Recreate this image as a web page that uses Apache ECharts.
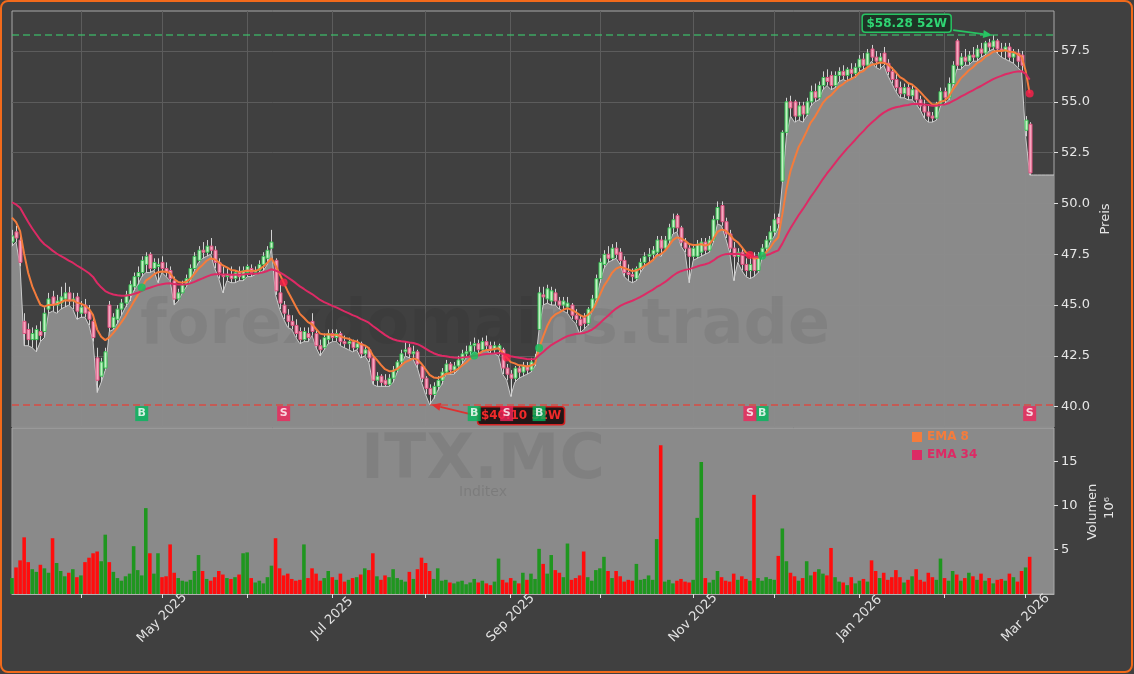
<!DOCTYPE html>
<html><head><meta charset="utf-8">
<script src="https://cdn.jsdelivr.net/npm/echarts@6/dist/echarts.min.js"></script>
<style>html,body{margin:0;padding:0;background:#404040;}#c{width:1134px;height:674px;}</style>
</head><body><div id="c"></div>
<script>
// ---------- DATA ----------
const startDate = '2025-03-07';
const holidays = ['2025-04-18','2025-04-21','2025-05-01','2025-12-25','2025-12-26','2026-01-01'];
const padDays = 6;
const open = [
48.1,48.6,48.2,44.2,43.8,43.3,43.3,43.7,43.7,44.8,
45.4,45.0,45.1,45.3,45.6,45.2,45.4,44.6,45.0,44.7,
44.2,42.4,41.5,41.9,45.0,43.9,44.3,44.8,45.1,45.5,
45.9,46.4,46.6,47.0,47.5,46.8,46.9,47.1,46.8,46.7,
46.2,45.3,45.6,46.0,46.3,46.8,47.2,47.7,47.6,47.9,
47.7,47.1,46.5,46.4,46.5,46.3,46.6,46.3,46.6,46.8,
46.6,46.7,47.0,47.3,47.8,47.2,45.6,45.0,44.5,44.2,
44.0,43.7,43.3,43.6,44.2,43.6,43.0,42.9,43.3,43.6,
43.4,43.6,43.2,43.1,43.2,42.9,43.1,42.6,42.8,42.4,
41.3,41.5,41.3,41.1,41.4,41.8,42.2,42.7,42.9,42.6,
42.7,42.0,41.4,40.9,40.6,41.0,41.3,41.7,42.1,41.8,
42.0,42.3,42.6,42.7,43.0,43.1,42.8,43.2,43.0,42.8,
42.8,42.8,41.9,41.6,41.4,41.9,41.7,42.0,41.8,42.3,
43.8,45.5,45.3,45.2,45.6,45.2,45.0,44.9,45.0,44.5,
44.3,44.4,44.1,44.8,45.3,46.3,47.0,47.5,47.3,47.8,
47.6,47.2,46.6,46.5,46.3,46.8,47.1,47.4,47.5,47.6,
48.2,47.8,48.2,48.8,49.4,48.8,48.1,47.8,47.4,47.4,
47.6,48.1,47.7,48.2,49.2,49.9,49.1,48.5,47.8,47.4,
47.6,47.0,46.7,47.4,46.7,47.4,47.8,48.2,48.6,49.3,
51.1,53.5,55.0,55.0,54.3,54.8,54.4,55.0,55.5,55.2,
55.8,56.2,56.3,55.8,56.3,56.5,56.3,56.6,56.4,56.7,
57.1,56.8,57.6,57.2,57.0,57.4,56.9,56.5,56.1,55.7,
55.4,55.7,55.3,55.6,55.1,54.8,54.5,54.3,54.2,54.9,
55.5,55.2,55.9,58.0,56.8,57.2,57.0,57.3,57.2,57.6,
57.4,57.9,57.7,58.0,57.6,57.5,57.7,57.2,57.4,57.3,
53.6,53.9];
const high = [
48.7,48.9,48.4,44.6,44.1,43.9,44.0,44.2,44.9,45.6,
45.7,45.5,45.9,46.1,45.9,45.6,45.6,45.2,45.3,45.0,
44.4,42.9,42.4,42.9,45.2,44.6,45.0,45.3,45.7,46.2,
46.6,46.9,47.4,47.6,47.6,47.3,47.3,47.4,47.1,46.9,
46.4,45.8,46.2,46.5,47.0,47.6,47.9,48.1,48.2,48.3,
47.9,47.3,46.9,46.8,46.9,46.7,46.9,46.9,47.0,47.0,
46.9,47.2,47.6,47.9,48.7,47.3,46.0,45.2,44.8,44.5,
44.3,43.9,43.9,43.9,44.6,43.8,43.3,43.6,43.8,43.8,
43.8,43.7,43.5,43.4,43.3,43.3,43.2,43.0,42.9,42.5,
41.7,41.6,41.6,41.6,42.0,42.3,42.8,43.2,43.1,43.0,
42.8,42.1,41.5,41.1,41.2,41.5,41.9,42.3,42.2,42.2,
42.5,42.8,43.0,43.2,43.4,43.3,43.4,43.5,43.2,43.2,
43.1,42.9,42.1,41.8,42.0,42.0,42.2,42.2,42.4,42.6,
45.9,45.9,46.0,45.9,45.8,45.4,45.4,45.4,45.1,44.8,
44.5,44.6,44.9,45.5,46.5,47.3,47.7,47.9,48.0,48.1,
47.8,47.4,47.0,46.8,46.9,47.3,47.6,47.8,47.9,48.4,
48.4,48.4,49.0,49.5,49.5,48.9,48.3,48.0,48.0,48.2,
48.3,48.3,48.4,49.4,50.1,50.1,49.3,48.7,48.1,47.8,
47.8,47.3,47.4,47.6,47.6,48.0,48.4,48.9,49.5,49.5,
53.6,55.2,55.3,55.1,55.0,55.0,55.2,55.8,55.9,56.0,
56.5,56.6,56.5,56.5,56.7,56.8,56.7,56.9,56.9,57.3,
57.4,57.6,57.8,57.5,57.4,57.7,57.1,56.7,56.4,56.0,
55.9,55.9,55.8,55.7,55.3,55.1,54.8,54.5,55.0,55.7,
55.7,56.2,57.0,58.1,57.4,57.6,57.5,57.7,57.8,57.9,
58.0,58.1,58.28,58.1,57.9,57.9,57.9,57.6,57.6,57.5,
54.3,54.0];
const low = [
47.9,48.1,46.9,43.0,43.0,42.9,42.7,43.2,43.4,44.6,
44.7,44.6,44.8,44.9,45.0,44.8,44.3,44.4,44.4,44.0,
43.2,40.7,41.2,41.8,43.7,43.8,44.1,44.5,44.9,45.2,
45.7,46.0,46.4,46.6,46.6,46.7,46.1,46.6,46.4,46.2,
45.0,45.2,45.6,45.9,46.2,46.7,47.1,47.3,47.4,47.5,
46.8,46.3,45.6,46.2,46.1,46.1,46.2,46.2,46.4,46.4,
46.5,46.6,46.7,47.0,47.8,45.5,44.8,44.3,43.9,43.8,
43.4,43.1,43.2,43.2,43.5,42.9,42.5,42.8,43.1,43.2,
43.2,43.0,42.9,42.8,42.7,42.8,42.4,42.5,42.2,41.1,
41.0,41.0,41.0,41.0,41.2,41.7,42.1,42.5,42.4,42.3,
41.9,41.2,40.6,40.1,40.4,40.8,41.1,41.6,41.6,41.6,
41.8,42.1,42.4,42.5,42.7,42.6,42.7,42.8,42.6,42.6,
42.5,41.6,41.3,40.5,41.2,41.4,41.5,41.6,41.7,42.0,
43.8,45.0,45.1,45.0,45.0,44.8,44.7,44.6,44.3,44.1,
43.6,43.8,44.0,44.7,45.2,46.1,46.8,47.1,47.2,47.3,
47.0,46.4,46.2,46.1,46.2,46.6,46.9,47.1,47.2,47.5,
47.4,47.7,48.0,48.5,48.6,47.9,47.6,46.1,47.2,47.3,
47.4,47.5,47.6,48.1,49.0,48.9,48.3,47.6,46.2,47.1,
46.7,46.4,46.3,46.4,46.6,47.3,47.6,48.1,48.4,48.8,
51.0,53.3,54.3,54.0,54.1,54.0,54.3,54.8,55.0,55.1,
55.6,55.8,55.6,55.7,56.0,56.1,56.0,56.2,56.2,56.5,
56.6,56.7,57.0,56.7,56.6,56.8,56.3,55.9,55.5,55.2,
55.2,55.1,55.1,54.9,54.6,54.2,54.0,54.0,54.1,54.8,
54.9,55.1,55.8,56.6,56.6,56.8,56.8,57.0,57.0,57.2,
57.3,57.5,57.6,57.4,57.2,57.1,57.0,56.9,56.7,56.5,
53.3,51.4];
const close = [
48.4,48.3,47.1,43.6,43.3,43.6,43.8,43.5,44.6,45.3,
45.0,45.2,45.4,45.6,45.2,45.3,44.7,44.9,44.6,44.3,
43.4,41.3,42.2,42.7,43.9,44.4,44.8,45.1,45.5,46.0,
46.4,46.6,47.2,47.4,46.8,47.1,47.0,46.8,46.6,46.3,
45.3,45.6,46.0,46.3,46.8,47.4,47.7,47.6,47.9,47.7,
47.1,46.6,46.4,46.5,46.3,46.6,46.4,46.7,46.9,46.6,
46.7,47.0,47.4,47.7,48.1,45.7,45.1,44.6,44.2,44.0,
43.6,43.3,43.7,43.4,43.7,43.0,42.8,43.4,43.6,43.4,
43.6,43.2,43.1,43.2,42.9,43.1,42.6,42.8,42.4,41.3,
41.5,41.2,41.1,41.4,41.8,42.2,42.6,42.8,42.6,42.7,
42.1,41.4,40.9,40.6,41.0,41.3,41.7,42.1,41.8,42.0,
42.3,42.6,42.7,43.0,43.1,42.8,43.2,43.0,42.8,43.0,
43.0,41.9,41.6,41.4,41.9,41.7,42.0,41.8,42.2,42.4,
45.6,45.4,45.8,45.7,45.2,45.0,45.2,45.1,44.5,44.3,
44.0,44.1,44.8,45.3,46.3,47.1,47.5,47.3,47.8,47.5,
47.2,46.6,46.5,46.4,46.8,47.1,47.4,47.5,47.7,48.2,
47.8,48.2,48.8,49.2,48.8,48.1,47.8,47.4,47.8,48.0,
48.1,47.7,48.2,49.2,49.8,49.1,48.5,47.8,47.4,47.6,
47.0,46.7,47.0,46.7,47.4,47.8,48.2,48.6,49.2,49.0,
53.5,55.0,54.7,54.3,54.8,54.4,55.0,55.5,55.2,55.8,
56.2,56.0,55.8,56.3,56.5,56.3,56.6,56.4,56.7,57.1,
56.8,57.4,57.2,57.0,57.2,56.9,56.5,56.1,55.7,55.4,
55.7,55.3,55.6,55.1,54.8,54.5,54.3,54.2,54.9,55.5,
55.2,55.9,56.8,56.8,57.2,57.0,57.3,57.2,57.6,57.4,
57.9,57.7,58.0,57.6,57.5,57.7,57.2,57.4,57.0,56.8,
54.1,51.5];
const volume = [ // millions
1.8,3.0,3.8,6.4,3.6,2.8,2.5,3.3,2.9,2.4,
6.3,3.5,2.6,2.0,2.4,2.8,1.9,2.1,3.6,4.1,
4.6,4.8,3.7,6.7,3.6,2.5,1.8,1.5,2.0,2.3,
5.4,2.7,2.1,9.7,4.6,2.3,4.6,1.9,2.0,5.6,
2.4,1.8,1.5,1.4,1.6,2.6,4.4,2.6,1.7,1.5,
1.9,2.6,2.2,1.8,1.7,1.9,2.2,4.6,4.7,1.8,
1.3,1.5,1.2,1.9,3.2,6.3,2.9,2.1,2.3,1.7,
1.5,1.6,5.6,1.8,2.9,2.3,1.5,1.8,2.6,1.9,
1.6,2.3,1.4,1.6,1.8,1.9,2.2,2.9,2.7,4.6,
2.0,1.6,2.1,1.9,2.8,1.8,1.6,1.4,2.5,1.7,
2.8,4.1,3.5,2.6,1.7,2.9,1.5,1.6,1.3,1.2,
1.4,1.5,1.1,1.3,1.7,1.3,1.5,1.2,1.0,1.4,
4.0,1.6,1.3,1.8,1.5,1.2,2.4,1.6,2.3,1.7,
5.1,3.4,2.3,4.4,2.7,2.4,1.9,5.7,1.6,1.8,
2.1,4.8,1.9,1.5,2.7,2.9,4.2,2.6,1.8,2.6,
2.0,1.4,1.6,1.5,3.4,1.6,1.7,2.1,1.6,6.2,
16.8,1.4,1.6,1.2,1.5,1.7,1.4,1.3,1.6,8.6,
14.9,1.8,1.3,1.6,2.6,1.9,1.5,1.4,2.3,1.6,
2.0,1.7,1.5,11.2,1.8,1.5,1.9,1.7,1.6,4.3,
7.4,3.7,2.4,2.0,1.5,1.8,3.7,2.1,2.5,2.8,
2.3,2.1,5.2,1.9,1.4,1.3,1.0,1.9,1.2,1.5,
1.7,1.4,3.8,2.6,1.8,2.4,1.6,1.9,2.7,1.9,
1.3,1.6,2.0,2.8,1.6,1.4,2.4,1.9,1.6,4.0,
1.8,1.5,2.6,2.2,1.5,1.8,2.4,2.0,1.6,2.3,
1.5,1.8,1.2,1.6,1.7,1.5,2.3,1.9,1.4,2.6,
3.0,4.2];
const ema8Seed = 49.3, ema34Seed = 50.05;   // EMA values at first visible day (history before window)
const buyIdx = [32, 114, 130, 185];
const sellIdx = [67, 122, 182, 251];
const yearHigh = {idx: 242, value: 58.28};
const yearLow = {idx: 103, value: 40.10};
const priceTicks = [40, 42.5, 45, 47.5, 50, 52.5, 55, 57.5];
const volTicks = [5, 10, 15];
const labeledMonths = [5, 7, 9, 11, 1, 3];
const monthNames = ['Jan','Feb','Mar','Apr','May','Jun','Jul','Aug','Sep','Oct','Nov','Dec'];

// ---------- DERIVED ----------
const N = close.length;
function tradingDays(start, n) {
  const out = []; const d = new Date(start + 'T00:00:00Z');
  while (out.length < n) {
    const dow = d.getUTCDay(); const s = d.toISOString().slice(0, 10);
    if (dow !== 0 && dow !== 6 && holidays.indexOf(s) < 0) out.push(s);
    d.setUTCDate(d.getUTCDate() + 1);
  }
  return out;
}
const dates = tradingDays(startDate, N + padDays);
const monthStart = dates.map((d, i) => i > 0 && i < N && d.slice(0, 7) !== dates[i - 1].slice(0, 7));
const isLabeled = dates.map((d, i) => monthStart[i] && labeledMonths.indexOf(+d.slice(5, 7)) >= 0);
function ema(seed, period) {
  const k = 2 / (period + 1); const out = [seed];
  for (let i = 1; i < N; i++) out.push(out[i - 1] + k * (close[i] - out[i - 1]));
  return out;
}
const ema8 = ema(ema8Seed, 8), ema34 = ema(ema34Seed, 34);
const areaLow = low.concat(new Array(padDays).fill(low[N - 1]));
const candleData = close.map((c, i) => [i, open[i], c, low[i], high[i]]);
const volData = volume.map((v, i) => ({value: v, itemStyle: {color: close[i] >= open[i] ? '#1f961f' : '#ff0d0d'}}));
const crossDots = buyIdx.map(i => ({value: [i, ema8[i]], itemStyle: {color: '#10c45c'}}))
  .concat(sellIdx.map(i => ({value: [i, ema8[i]], itemStyle: {color: '#ff1f4b'}})));
const markerY = 39.66;
const sigMarks = buyIdx.map(i => ({value: [i, markerY], sig: 'B', itemStyle: {color: '#00b85c'}}))
  .concat(sellIdx.map(i => ({value: [i, markerY], sig: 'S', itemStyle: {color: '#f0245a'}})));

const C8 = '#f47c3c', C34 = '#dd2a65';
const FONT = '"DejaVu Sans", sans-serif';
const chart = echarts.init(document.getElementById('c'));
chart.setOption({
  animation: false,
  backgroundColor: '#404040',
  textStyle: {fontFamily: FONT},
  grid: [
    {left: 12, top: 11, width: 1042, height: 416, show: true, borderColor: '#a8a8a8', borderWidth: 1, backgroundColor: 'transparent'},
    {left: 12, top: 428, width: 1042, height: 166, show: true, borderColor: '#a8a8a8', borderWidth: 1, backgroundColor: '#8a8a8a'}
  ],
  legend: {
    data: [{name: 'EMA 8', textStyle: {color: C8}}, {name: 'EMA 34', textStyle: {color: C34}}],
    orient: 'vertical', left: 912, top: 431, itemWidth: 10, itemHeight: 10, itemGap: 6, icon: 'rect',
    textStyle: {fontSize: 12, fontWeight: 'bold', fontFamily: FONT}, padding: 0
  },
  xAxis: [
    {type: 'category', gridIndex: 0, data: dates, boundaryGap: false,
     axisLine: {show: false}, axisTick: {show: false}, axisLabel: {show: false},
     splitLine: {show: true, interval: (i) => monthStart[i], lineStyle: {color: '#5c5c5c', width: 1}}},
    {type: 'category', gridIndex: 1, data: dates, boundaryGap: false,
     axisLine: {show: true, lineStyle: {color: '#b0b0b0'}},
     axisTick: {show: true, interval: (i) => monthStart[i], length: 4, lineStyle: {color: '#e0e0e0'}},
     axisLabel: {show: true, interval: (i) => isLabeled[i], rotate: 45, align: 'center', verticalAlign: 'middle', margin: 24,
       color: '#e2e2e2', fontSize: 13, fontFamily: FONT,
       formatter: (v) => monthNames[+v.slice(5, 7) - 1] + ' ' + v.slice(0, 4)},
     splitLine: {show: false}}
  ],
  yAxis: [
    {type: 'value', gridIndex: 0, position: 'right', min: 39.0, max: 59.47, scale: true,
     axisLine: {show: false},
     axisTick: {show: true, customValues: priceTicks, length: 4, lineStyle: {color: '#e0e0e0'}},
     axisLabel: {show: true, customValues: priceTicks, formatter: (v) => v.toFixed(1), color: '#e6e6e6', fontSize: 13, margin: 7, fontFamily: FONT},
     splitLine: {show: true, lineStyle: {color: '#5c5c5c', width: 1}}},
    {type: 'value', gridIndex: 1, position: 'right', min: 0, max: 18.75,
     axisLine: {show: false},
     axisTick: {show: true, customValues: volTicks, length: 4, lineStyle: {color: '#e0e0e0'}},
     axisLabel: {show: true, customValues: volTicks, color: '#e6e6e6', fontSize: 13, margin: 7, fontFamily: FONT},
     splitLine: {show: false}}
  ],
  series: [
    {name: 'low', type: 'line', xAxisIndex: 0, yAxisIndex: 0, data: areaLow, symbol: 'none', z: 1,
     lineStyle: {color: '#cccccc', width: 1}, areaStyle: {color: '#8e8e8e', opacity: 0.96}, silent: true,
     markLine: {silent: true, symbol: ['none', 'none'], label: {show: false}, z: 5,
       data: [
         {yAxis: yearHigh.value, lineStyle: {color: 'rgba(60,200,110,0.75)', type: [7, 4], width: 1.6}},
         {yAxis: yearLow.value, lineStyle: {color: 'rgba(235,60,50,0.8)', type: [7, 4], width: 1.6}}
       ]}},
    {name: 'candles', type: 'custom', xAxisIndex: 0, yAxisIndex: 0, data: candleData, z: 3, clip: true,
     encode: {x: 0, y: [1, 2, 3, 4]},
     renderItem: function (params, api) {
       const i = api.value(0), o = api.value(1), c = api.value(2), l = api.value(3), h = api.value(4);
       const pO = api.coord([i, o]), pC = api.coord([i, c]), pL = api.coord([i, l]), pH = api.coord([i, h]);
       const x = Math.round(pO[0]) + 0.5; const up = c >= o;
       const top = Math.min(pO[1], pC[1]), bot = Math.max(pO[1], pC[1]);
       return {type: 'group', children: [
         {type: 'line', shape: {x1: x, y1: pH[1], x2: x, y2: pL[1]}, style: {stroke: '#d2d2d2', lineWidth: 1}},
         {type: 'rect', shape: {x: x - 1.5, y: top, width: 3, height: Math.max(bot - top, 1)},
          style: {fill: up ? '#c4f0c4' : '#f5a8c0', stroke: up ? '#35c052' : '#e0507f', lineWidth: 1}}
       ]};
     }},
    {name: 'EMA 8', type: 'line', xAxisIndex: 0, yAxisIndex: 0, data: ema8, symbol: 'none', z: 4,
     lineStyle: {color: C8, width: 2}, itemStyle: {color: C8}},
    {name: 'EMA 34', type: 'line', xAxisIndex: 0, yAxisIndex: 0, data: ema34, symbol: 'none', z: 4,
     lineStyle: {color: C34, width: 2}, itemStyle: {color: C34}},
    {name: 'cross', type: 'scatter', xAxisIndex: 0, yAxisIndex: 0, data: crossDots, symbolSize: 8, z: 6},
    {name: 'signals', type: 'scatter', xAxisIndex: 0, yAxisIndex: 0, data: sigMarks, symbol: 'rect', symbolSize: [13, 15], z: 12,
     label: {show: true, position: 'inside', formatter: (p) => p.data.sig, color: '#ffffff', fontWeight: 'bold', fontSize: 11, fontFamily: FONT}},
    {name: 'Volumen', type: 'bar', xAxisIndex: 1, yAxisIndex: 1, data: volData, barCategoryGap: '12%', z: 3}
  ]
});

const hp = chart.convertToPixel({xAxisIndex: 0, yAxisIndex: 0}, [yearHigh.idx, yearHigh.value]);
const lp = chart.convertToPixel({xAxisIndex: 0, yAxisIndex: 0}, [yearLow.idx, yearLow.value]);
function arrow(x1, y1, x2, y2, color) {
  const a = Math.atan2(y2 - y1, x2 - x1), L = 9, W = 4;
  const bx = x2 - L * Math.cos(a), by = y2 - L * Math.sin(a);
  return [
    {type: 'line', shape: {x1: x1, y1: y1, x2: bx, y2: by}, style: {stroke: color, lineWidth: 1.8}, z: 9},
    {type: 'polygon', shape: {points: [[x2, y2], [bx + W * Math.sin(a), by - W * Math.cos(a)], [bx - W * Math.sin(a), by + W * Math.cos(a)]]}, style: {fill: color}, z: 9}
  ];
}
const hiBox = {x: hp[0] - 131, y: hp[1] - 21};
const loBox = {x: lp[0] + 48, y: lp[1] + 2};
const g = [
  {type: 'rect', shape: {x: 1, y: 1, width: 1131, height: 671, r: 7}, style: {fill: 'none', stroke: '#f26a1b', lineWidth: 2}, z: 30, silent: true},
  {type: 'text', x: 485, y: 327, style: {text: 'forexdomains.trade', font: 'bold 62px ' + FONT, fill: 'rgba(0,0,0,0.06)', align: 'center', verticalAlign: 'middle'}, z: 2, silent: true},
  {type: 'text', x: 483, y: 462, style: {text: 'ITX.MC', font: 'bold 62px ' + FONT, fill: 'rgba(0,0,0,0.065)', align: 'center', verticalAlign: 'middle'}, z: 2, silent: true},
  {type: 'text', x: 483, y: 492, style: {text: 'Inditex', font: '14px ' + FONT, fill: 'rgba(0,0,0,0.1)', align: 'center', verticalAlign: 'middle'}, z: 2, silent: true},
  {type: 'text', x: 1106, y: 219, rotation: Math.PI / 2, style: {text: 'Preis', font: '13px ' + FONT, fill: '#e6e6e6', align: 'center', verticalAlign: 'middle'}},
  {type: 'text', x: 1093, y: 512, rotation: Math.PI / 2, style: {text: 'Volumen', font: '13px ' + FONT, fill: '#e6e6e6', align: 'center', verticalAlign: 'middle'}},
  {type: 'text', x: 1110, y: 508, rotation: Math.PI / 2, style: {text: '10⁶', font: '13px ' + FONT, fill: '#e6e6e6', align: 'center', verticalAlign: 'middle'}},
  {type: 'rect', shape: {x: hiBox.x, y: hiBox.y, width: 89, height: 18, r: 3}, style: {fill: '#1e3326', stroke: '#27c462', lineWidth: 1.5}, z: 9},
  {type: 'text', x: hiBox.x + 44.5, y: hiBox.y + 9.5, style: {text: '$58.28 52W', font: 'bold 12px ' + FONT, fill: '#2fd573', align: 'center', verticalAlign: 'middle'}, z: 10},
  {type: 'rect', shape: {x: loBox.x, y: loBox.y, width: 87, height: 18, r: 3}, style: {fill: '#231616', stroke: '#d42222', lineWidth: 1.5}, z: 9},
  {type: 'text', x: loBox.x + 43.5, y: loBox.y + 9.5, style: {text: '$40.10 52W', font: 'bold 12px ' + FONT, fill: '#f02a2a', align: 'center', verticalAlign: 'middle'}, z: 10}
].concat(arrow(hiBox.x + 91, hiBox.y + 16, hp[0] - 1, hp[1], '#27c462'))
 .concat(arrow(loBox.x - 1, loBox.y + 9, lp[0] + 2, lp[1], '#e03030'));
chart.setOption({graphic: {elements: g}});
</script>
</body></html>
